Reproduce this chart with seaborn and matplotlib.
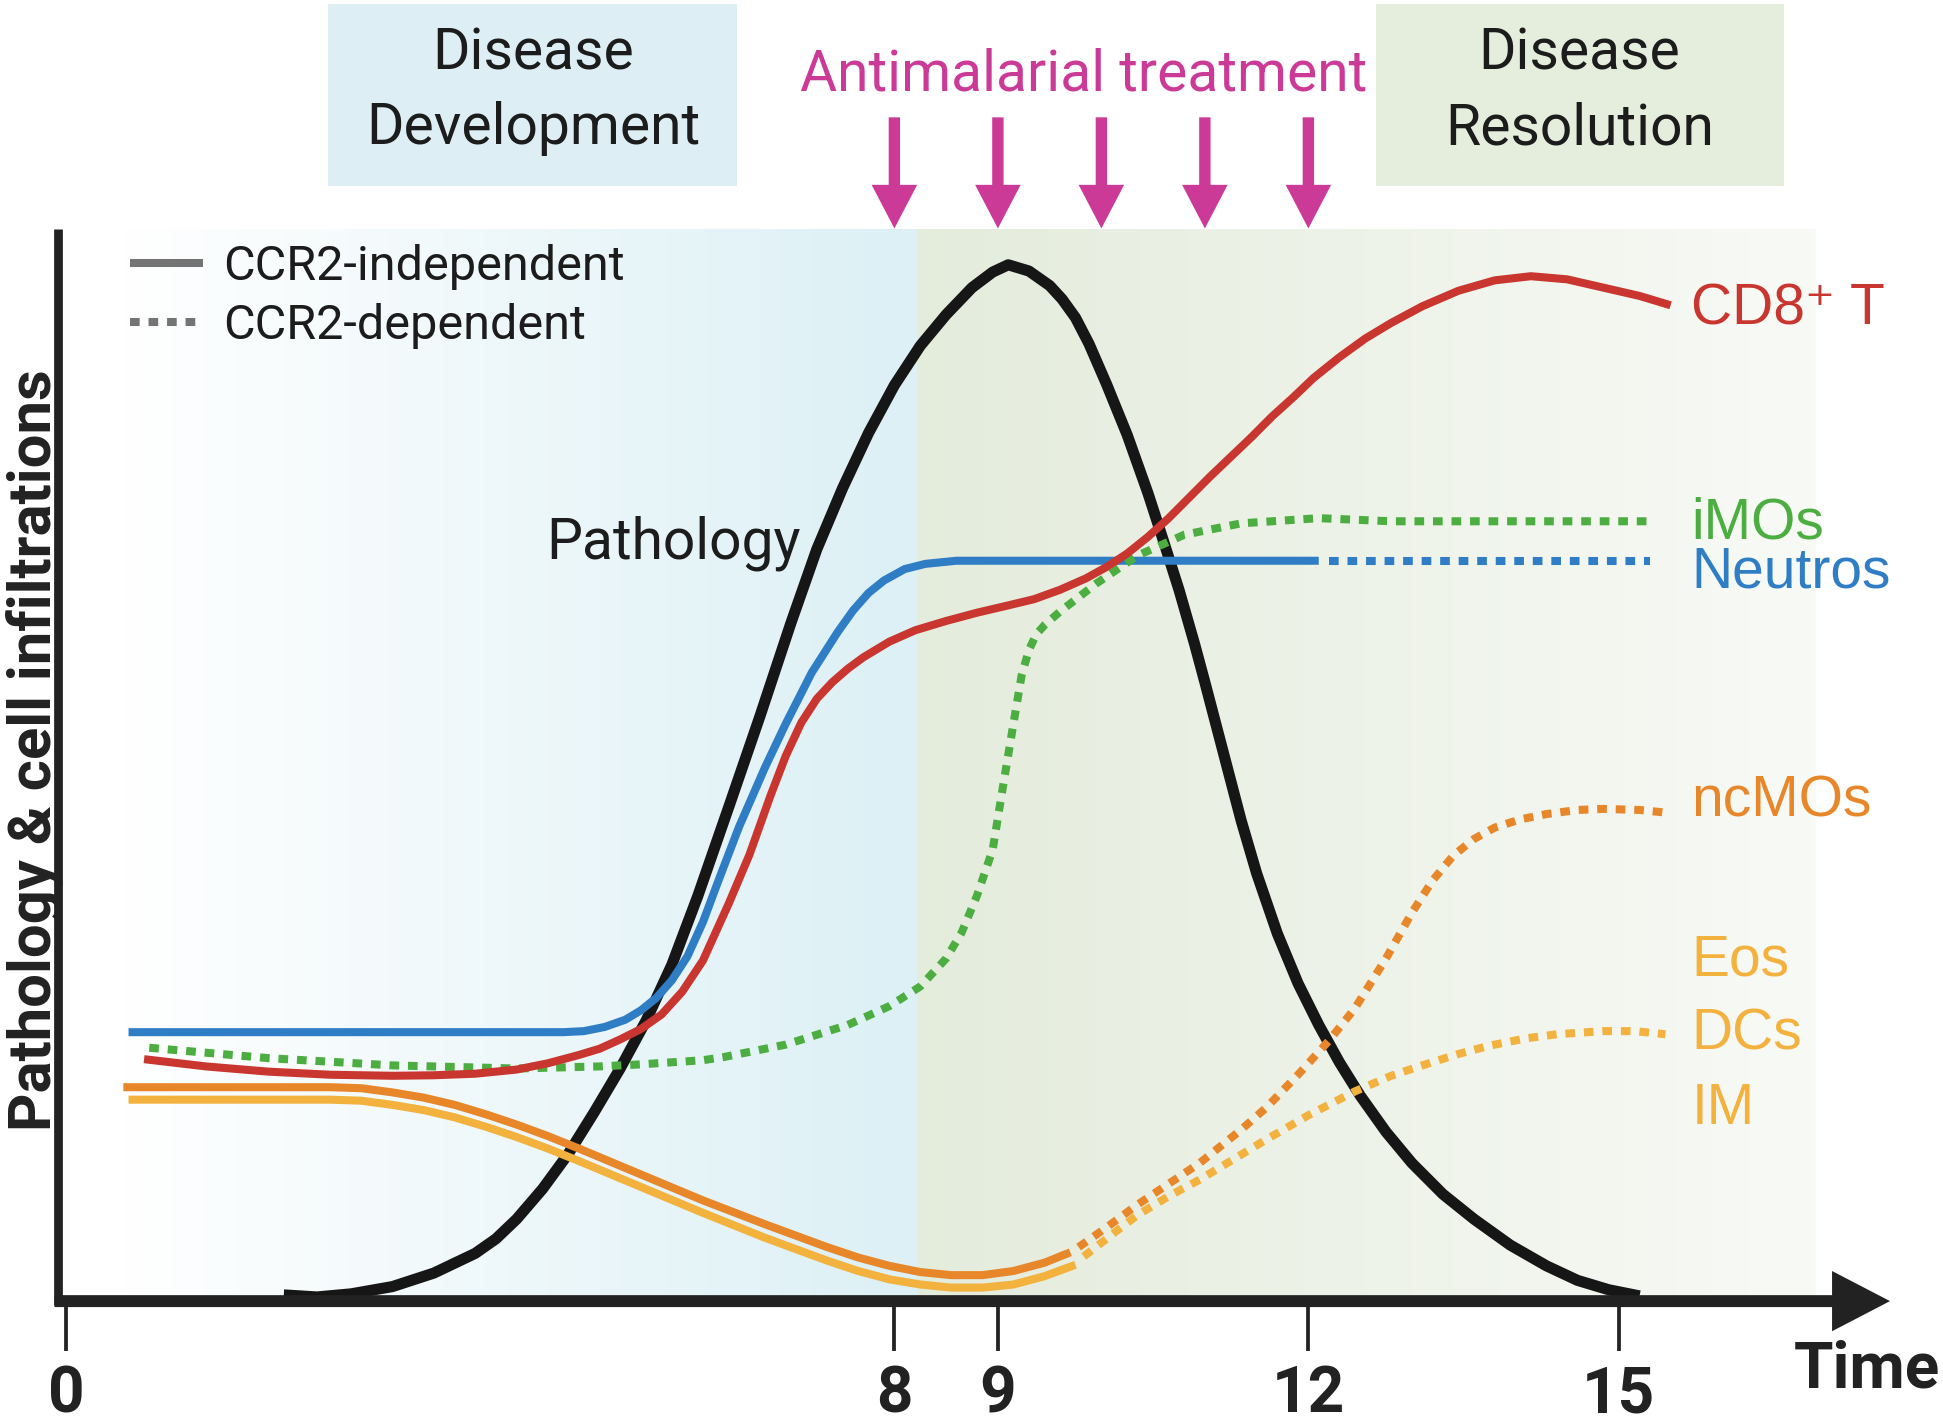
import matplotlib as mpl
from matplotlib import pyplot as plt
from matplotlib.lines import Line2D
from matplotlib.patches import FancyArrow, Rectangle
import numpy as np
import pandas as pd
import seaborn as sns

# Values: time in days, level in % of peak pathology

# Pathology (black)
path_days = [2.10, 2.42, 2.75, 3.15, 3.55, 3.95, 4.15, 4.35, 4.60, 4.85,
             5.10, 5.35, 5.60, 5.85, 6.10, 6.40, 6.70, 7.00, 7.25, 7.50,
             7.75, 8.00, 8.25, 8.50, 8.75, 8.95, 9.10, 9.30, 9.50, 9.62,
             9.75, 9.88, 10.05, 10.25, 10.45, 10.60, 10.75, 10.90, 11.00, 11.15,
             11.35, 11.50, 11.70, 11.90, 12.10, 12.30, 12.50, 12.75, 13.00, 13.30,
             13.60, 13.95, 14.30, 14.60, 14.90, 15.20]
pathology = [0.6, 0.4, 0.7, 1.4, 2.7, 4.6, 6.0, 7.9, 10.8, 14.2,
             18.2, 22.4, 27.0, 32.4, 39.0, 47.6, 56.3, 65.3, 72.4, 78.3,
             83.6, 88.2, 92.0, 95.0, 97.6, 99.1, 99.8, 99.2, 97.8, 96.5,
             94.7, 92.2, 88.3, 83.4, 77.8, 73.2, 68.5, 63.3, 59.6, 53.9,
             46.3, 41.2, 35.4, 30.6, 26.6, 23.0, 19.8, 16.3, 13.3, 10.3,
             7.9, 5.4, 3.4, 2.0, 1.1, 0.5]

# CD8+ T cells (red, CCR2-independent)
cd8_days = [0.75, 1.35, 1.95, 2.55, 3.15, 3.55, 3.95, 4.35, 4.65, 4.95,
            5.15, 5.35, 5.55, 5.75, 5.95, 6.15, 6.4, 6.6, 6.8, 6.95,
            7.1, 7.25, 7.4, 7.55, 7.7, 7.95, 8.2, 8.5, 8.8, 9.1,
            9.35, 9.6, 9.85, 10.05, 10.25, 10.45, 10.65, 10.85, 11.05, 11.25,
            11.45, 11.65, 11.85, 12.05, 12.3, 12.55, 12.8, 13.1, 13.45, 13.8,
            14.15, 14.5, 14.85, 15.2, 15.5]
cd8 = [23.3, 22.6, 22.1, 21.8, 21.7, 21.75, 21.9, 22.3, 22.9, 23.7,
       24.3, 25.2, 26.2, 27.6, 29.8, 32.8, 38.3, 43.0, 48.6, 52.5,
       55.7, 58.0, 59.6, 60.9, 62.0, 63.5, 64.6, 65.5, 66.3, 67.0,
       67.6, 68.5, 69.6, 70.7, 72.0, 73.6, 75.4, 77.4, 79.4, 81.3,
       83.2, 85.2, 87.0, 88.9, 90.9, 92.7, 94.2, 95.8, 97.3, 98.3,
       98.7, 98.4, 97.6, 96.8, 95.9]

# Neutrophils (blue): solid part, then dotted part
neutro_days = [0.6, 4.8, 5.0, 5.2, 5.4, 5.55, 5.7, 5.85, 6.0, 6.15, 6.3, 6.5,
               6.75, 6.95, 7.2, 7.45, 7.6, 7.75, 7.9, 8.1, 8.3, 8.6, 12.1]
neutros = [25.9, 25.9, 26.0, 26.4, 27.1, 28.0, 29.2, 30.9, 33.2, 36.5, 40.5, 45.7,
           51.4, 55.6, 60.5, 64.4, 66.5, 68.2, 69.4, 70.5, 71.0, 71.3, 71.3]
neutro_dep_days = [12.2, 15.3]
neutros_dep = [71.3, 71.3]

# Inflammatory monocytes (green, CCR2-dependent)
imo_days = [0.8, 1.95, 3.15, 4.35, 5.15, 5.55, 6.15, 6.35, 6.95, 7.55,
            7.95, 8.25, 8.5, 8.65, 8.8, 8.95, 9.05, 9.15, 9.23, 9.3,
            9.37, 9.45, 9.6, 9.95, 10.35, 10.8, 11.35, 12.1, 12.8, 15.3]
imos = [24.4, 23.4, 22.7, 22.4, 22.6, 22.8, 23.2, 23.5, 24.7, 26.6,
        28.4, 30.3, 33.0, 35.5, 39.1, 43.5, 49.6, 55.6, 60.3, 62.7,
        64.2, 65.1, 66.4, 69.1, 71.8, 73.8, 74.9, 75.4, 75.1, 75.1]

# Non-classical monocytes (orange)
ncmo_days = [0.55, 2.55, 2.85, 3.15, 3.45, 3.75, 4.05, 4.35, 4.65, 4.95, 5.55,
             6.15, 6.75, 7.35, 7.65, 7.95, 8.25, 8.55, 8.85, 9.15, 9.45, 9.7]
ncmos = [20.6, 20.6, 20.5, 20.1, 19.6, 18.9, 18.0, 17.0, 15.9, 14.7, 12.2,
         9.7, 7.4, 5.2, 4.2, 3.4, 2.8, 2.5, 2.5, 2.9, 3.7, 4.7]
ncmo_dep_days = [9.78, 10.05, 10.35, 10.65, 10.95, 11.35, 11.6, 11.9, 12.2, 12.45, 12.75,
                 13.0, 13.2, 13.4, 13.6, 13.8, 14.05, 14.3, 14.6, 14.85, 15.2, 15.5]
ncmos_dep = [5.2, 7.1, 9.3, 11.3, 13.3, 16.5, 18.7, 21.8, 25.1, 28.2, 33.0,
             37.4, 40.5, 42.9, 44.5, 45.6, 46.4, 46.9, 47.3, 47.4, 47.3, 47.0]

# Eos / DCs / IM (light orange)
dc_days = [0.6, 2.55, 2.85, 3.15, 3.45, 3.75, 4.05, 4.35, 4.65, 4.95, 5.55,
           6.15, 6.75, 7.35, 7.65, 7.95, 8.25, 8.55, 8.85, 9.15, 9.45, 9.75]
dcs = [19.4, 19.4, 19.3, 18.9, 18.4, 17.7, 16.8, 15.8, 14.7, 13.5, 11.0,
       8.5, 6.1, 3.9, 2.9, 2.1, 1.6, 1.3, 1.3, 1.6, 2.4, 3.5]
dc_dep_days = [9.83, 10.1, 10.35, 10.65, 10.95, 11.35, 11.6, 12.0, 12.45, 12.8,
               13.1, 13.45, 13.75, 14.1, 14.4, 14.85, 15.15, 15.45]
dcs_dep = [4.3, 6.4, 8.3, 10.1, 11.7, 14.1, 15.6, 17.9, 20.2, 21.7,
           22.7, 23.8, 24.6, 25.3, 25.7, 26.0, 26.0, 25.7]

treatment_days = [8, 9, 10, 11, 12]
tick_days = [0, 8, 9, 12, 15]

curve_labels = ["CD8⁺ T", "iMOs", "Neutros", "ncMOs", "Eos", "DCs", "IM"]
curve_label_levels = [95.5, 74.9, 70.2, 48.1, 32.8, 25.7, 18.5]

# Colours
BLACK = "#161616"
AXIS = "#222222"
RED = "#c9362f"
BLUE = "#2e7dc5"
GREEN = "#4cae41"
ORANGE = "#e8862a"
YELLOW = "#f3b13e"
MAGENTA = "#cc3a98"
GRAY = "#747474"
TEXT = "#1c1c1c"
label_colors = [RED, GREEN, BLUE, ORANGE, YELLOW, YELLOW, YELLOW]

DOTS = (0, (1.2, 1.1))
BOLD = ["Roboto", "DejaVu Sans"]

sns.set_theme(style="white")
plt.rcParams["font.family"] = ["Roboto", "DejaVu Sans"]


def hgrad(c0, c1, n=256):
    """Horizontal colour ramp for imshow"""
    a = np.array(mpl.colors.to_rgb(c0))
    b = np.array(mpl.colors.to_rgb(c1))
    w = np.linspace(0, 1, n)[:, None]
    return (a + (b - a) * w)[None, :, :]


def draw(ax, days, values, color, dotted=False, lw=5.8, z=4):
    df = pd.DataFrame({"day": days, "level": values})
    if dotted:
        kw = dict(linestyle=DOTS, dash_capstyle="butt", dash_joinstyle="round")
    else:
        kw = dict(solid_capstyle="butt", solid_joinstyle="round")
    sns.lineplot(data=df, x="day", y="level", color=color, lw=lw, ax=ax,
                 sort=False, errorbar=None, zorder=z, **kw)


fig = plt.figure(figsize=(19.43, 14.25), dpi=100)
ax = fig.add_axes([0, 0, 1, 1])

# Background phases
top = 103.2
ax.imshow(hgrad("#ffffff", "#dcf0f5"), extent=[0.55, 8.22, 0, top], aspect="auto", zorder=0)
ax.imshow(hgrad("#e4ecdc", "#f8faf6"), extent=[8.22, 16.9, 0, top], aspect="auto", zorder=0)

# Phase boxes on top
ax.add_patch(Rectangle((2.53, 107.4), 3.95, 17.5, color="#ddeff4", lw=0, zorder=1))
ax.add_patch(Rectangle((12.65, 107.4), 3.95, 17.5, color="#e5eedc", lw=0, zorder=1))
ax.text(4.51, 116.5, "Disease\nDevelopment", ha="center", va="center", fontsize=41,
        linespacing=1.45, color=TEXT, zorder=2)
ax.text(14.62, 116.5, "Disease\nResolution", ha="center", va="center", fontsize=41,
        linespacing=1.45, color=TEXT, zorder=2)

# Treatment
ax.text(9.83, 118.1, "Antimalarial treatment", ha="center", va="center", fontsize=41,
        color=MAGENTA)
for d in treatment_days:
    ax.add_patch(FancyArrow(d, 114.0, 0, -10.7, width=0.11, head_width=0.44, head_length=4.2,
                            length_includes_head=True, color=MAGENTA, lw=0, zorder=5))

# Curves
draw(ax, path_days, pathology, BLACK, lw=8, z=3)
draw(ax, neutro_days, neutros, BLUE)
draw(ax, neutro_dep_days, neutros_dep, BLUE, dotted=True)
draw(ax, imo_days, imos, GREEN, dotted=True)
draw(ax, cd8_days, cd8, RED)
draw(ax, ncmo_days, ncmos, ORANGE)
draw(ax, ncmo_dep_days, ncmos_dep, ORANGE, dotted=True)
draw(ax, dc_days, dcs, YELLOW)
draw(ax, dc_dep_days, dcs_dep, YELLOW, dotted=True)

ax.text(5.87, 73.0, "Pathology", ha="center", va="center", fontsize=41, color=TEXT, zorder=6)

for name, lev, col in zip(curve_labels, curve_label_levels, label_colors):
    ax.text(15.70, lev, name, ha="left", va="center", fontsize=41, color=col,
            family=["Liberation Sans", "DejaVu Sans"])

# Axes drawn by hand
ax.add_patch(FancyArrow(-0.115, 0, 17.735, 0, width=1.15, head_width=5.8, head_length=0.56,
                        length_includes_head=True, color=AXIS, lw=0, zorder=6))
ax.vlines(tick_days, -4.77, 0, color=AXIS, lw=2.7, zorder=6)
for d in tick_days:
    ax.text(d, -9.0, str(d), ha="center", va="center", fontsize=46, fontweight="bold",
            family=BOLD, color=AXIS)
ax.text(17.40, -6.6, "Time", ha="center", va="center", fontsize=46, fontweight="bold",
        family=BOLD, color=AXIS)
ax.text(-0.31, 53.1, "Pathology & cell infiltrations", rotation=90, ha="center",
        va="center", fontsize=43, fontweight="bold", family=BOLD, color=AXIS, zorder=5)
ax.vlines(-0.079, -0.4, top, color=AXIS, lw=6.3, zorder=7)

# Legend
handles = [Line2D([], [], color=GRAY, lw=5.8, solid_capstyle="butt"),
           Line2D([], [], color=GRAY, lw=5.8, linestyle=DOTS, dash_capstyle="butt")]
ax.legend(handles, ["CCR2-independent", "CCR2-dependent"], loc="upper left",
          bbox_to_anchor=(0.067, 0.829), bbox_transform=fig.transFigure, frameon=False,
          fontsize=35, handlelength=1.5, handletextpad=0.42, labelspacing=0.28,
          borderpad=0, borderaxespad=0, labelcolor=TEXT)

ax.set_xlim(-0.642, 18.132)
ax.set_ylim(-11.93, 125.3)
ax.axis("off")

fig.savefig("out.png", dpi=100)
